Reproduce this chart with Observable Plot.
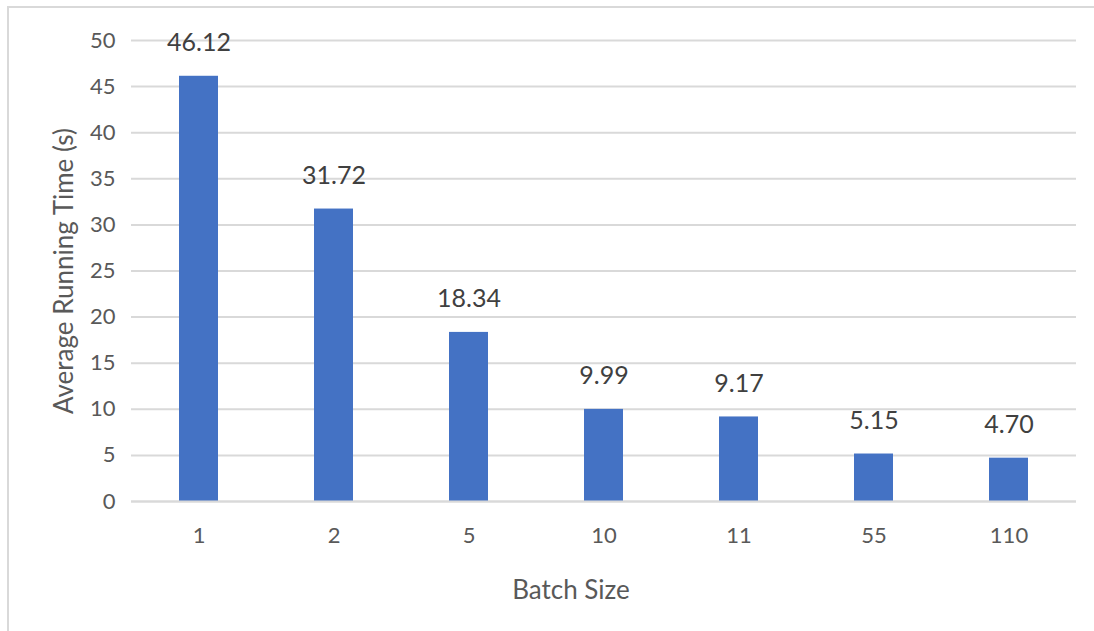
<!DOCTYPE html>
<html>
<head>
<meta charset="utf-8">
<script src="https://cdn.jsdelivr.net/npm/d3@7"></script>
<script src="https://cdn.jsdelivr.net/npm/@observablehq/plot@0.6"></script>
<style>
  html, body { margin: 0; padding: 0; background: #fff; }
  #wrap { position: relative; width: 1094px; height: 631px; overflow: hidden; }
  #frame { position: absolute; left: 7px; top: 6px; right: 0; bottom: -10px;
           border-left: 2px solid #d9d9d9; border-top: 2px solid #d9d9d9; }
  #chart { position: absolute; left: 0; top: 0; }
</style>
</head>
<body>
<div id="wrap"><div id="frame"></div><div id="chart"></div></div>
<script>
const batchSizes = ["1", "2", "5", "10", "11", "55", "110"];
const runningTimes = [46.12, 31.72, 18.34, 9.99, 9.17, 5.15, 4.70];
const yTicks = [0, 5, 10, 15, 20, 25, 30, 35, 40, 45, 50];
const xTitle = "Batch Size";
const yTitle = "Average Running Time (s)";

const data = batchSizes.map((b, i) => ({batch: b, time: runningTimes[i]}));
const textColor = "#595959";
const font = "Lato, 'Open Sans', sans-serif";

const chart = Plot.plot({
  width: 1094,
  height: 631,
  marginLeft: 131,
  marginRight: 18,
  marginTop: 40,
  marginBottom: 130,
  style: {fontFamily: font, color: textColor, background: "transparent"},
  x: {domain: batchSizes, paddingInner: 0.71, paddingOuter: 0.35, label: null},
  y: {domain: [0, 50], label: null},
  marks: [
    Plot.ruleY(yTicks, {stroke: "#d9d9d9", strokeWidth: 2}),
    Plot.barY(data, {x: "batch", y: "time", fill: "#4472C4"}),
    Plot.ruleY([0], {stroke: "#d9d9d9", strokeWidth: 2}),
    Plot.text(data, {x: "batch", y: "time", text: d => d.time.toFixed(2),
      dy: -33, lineAnchor: "middle", fontSize: 25, fill: "#404040"}),
    Plot.axisY({ticks: yTicks, tickSize: 0, tickPadding: 16, fontSize: 22, label: null, fill: textColor}),
    Plot.axisX({tickSize: 0, tickPadding: 26, fontSize: 22, label: null, fill: textColor}),
    Plot.text([xTitle], {frameAnchor: "bottom", dx: -33, dy: 89, lineAnchor: "middle", textAnchor: "middle",
      fontSize: 26, fill: textColor, text: d => d}),
    Plot.text([yTitle], {frameAnchor: "left", dx: -67, rotate: -90, lineAnchor: "middle", textAnchor: "middle",
      fontSize: 26, letterSpacing: 1.6, fill: textColor, text: d => d})
  ]
});
document.getElementById("chart").appendChild(chart);
</script>
</body>
</html>
